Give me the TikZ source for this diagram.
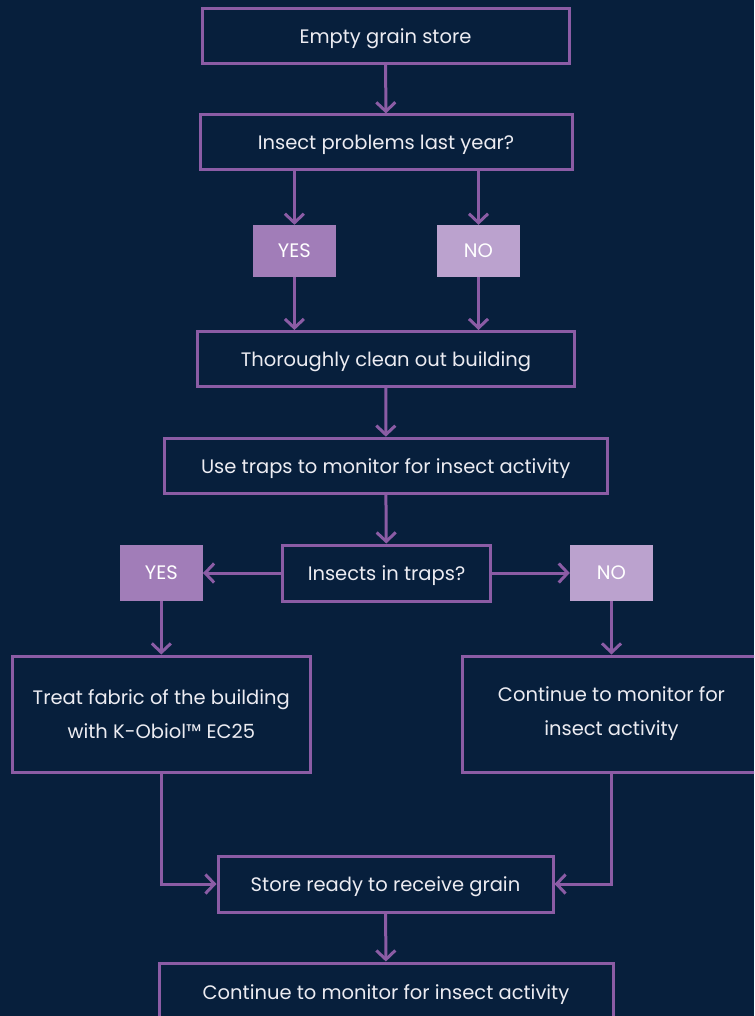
\documentclass[tikz,border=0pt]{standalone}
\usepackage{fontspec}
\setmainfont{Poppins}
\usetikzlibrary{arrows.meta}
\definecolor{navy}{HTML}{071F3C}
\definecolor{plum}{HTML}{8B5CA5}
\definecolor{yesfill}{HTML}{A17DB8}
\definecolor{nofill}{HTML}{BBA2CE}
\definecolor{paper}{HTML}{ECECF2}

\begin{document}
\begin{tikzpicture}[x=1pt, y=-1pt,
        box/.style={draw=plum, line width=3pt, text=paper, align=center,
            font=\fontsize{19.5}{34}\selectfont, inner sep=0pt},
        onebox/.style={box, text depth=0pt},
        yesbox/.style={fill=yesfill, text=white, minimum width=83pt,
            font=\fontsize{19.5}{22}\selectfont, inner sep=0pt},
        nobox/.style={yesbox, fill=nofill},
        flow/.style={draw=plum, line width=3pt,
            -{Straight Barb[length=9pt, width=19pt]}}]
        \clip (0,0) rectangle (754,1016);
        \fill[navy] (0,0) rectangle (754,1016);
        \node[onebox, minimum width=367pt, minimum height=55pt] (empty) at (385.5,35.8) {Empty grain store};
        \node[onebox, minimum width=372pt, minimum height=55pt] (problems) at (386,142.4) {Insect problems last year?};
        \node[yesbox, minimum height=52pt] (yes1) at (294.4,251) {YES};
        \node[nobox, minimum height=52pt] (no1) at (478.5,251) {NO};
        \node[onebox, minimum width=377pt, minimum height=55pt] (clean) at (386,359) {Thoroughly clean out building};
        \node[onebox, minimum width=443pt, minimum height=55pt] (traps) at (385.7,465.7) {Use traps to monitor for insect activity};
        \node[onebox, minimum width=208pt, minimum height=56pt] (insects) at (386.5,573) {Insects in traps?};
        \node[yesbox, minimum height=56pt] (yes2) at (161.3,573) {YES};
        \node[nobox, minimum height=56pt] (no2) at (611.5,573) {NO};
        \node[box, minimum width=298pt, minimum height=116pt] (treat) at (161.3,714) {Treat fabric of the building\\with K-Obiol™ EC25};
        \node[box, minimum width=298pt, minimum height=116pt] (monitor) at (611.5,714) {Continue to monitor for\\insect activity};
        \node[onebox, minimum width=335pt, minimum height=56pt] (ready) at (385.5,884) {Store ready to receive grain};
        \node[box, minimum width=454pt, minimum height=56pt] (again) at (386,991) {};
        \node[text=paper, font=\fontsize{19.5}{22}\selectfont] (againtext) at (386,995) {Continue to monitor for insect activity};

        \draw[flow] (empty) -- (problems);
        \draw[flow] (problems.south -| yes1) -- (yes1);
        \draw[flow] (problems.south -| no1) -- (no1);
        \draw[flow] (yes1) -- (clean.north -| yes1);
        \draw[flow] (no1) -- (clean.north -| no1);
        \draw[flow] (clean) -- (traps);
        \draw[flow] (traps) -- (insects);
        \draw[flow] (insects) -- (yes2);
        \draw[flow] (insects) -- (no2);
        \draw[flow] (yes2) -- (treat);
        \draw[flow] (no2) -- (monitor);
        \draw[flow] (treat.south) |- (ready.west);
        \draw[flow] (monitor.south) |- (ready.east);
        \draw[flow] (ready) -- (again);
    \end{tikzpicture}
\end{document}
